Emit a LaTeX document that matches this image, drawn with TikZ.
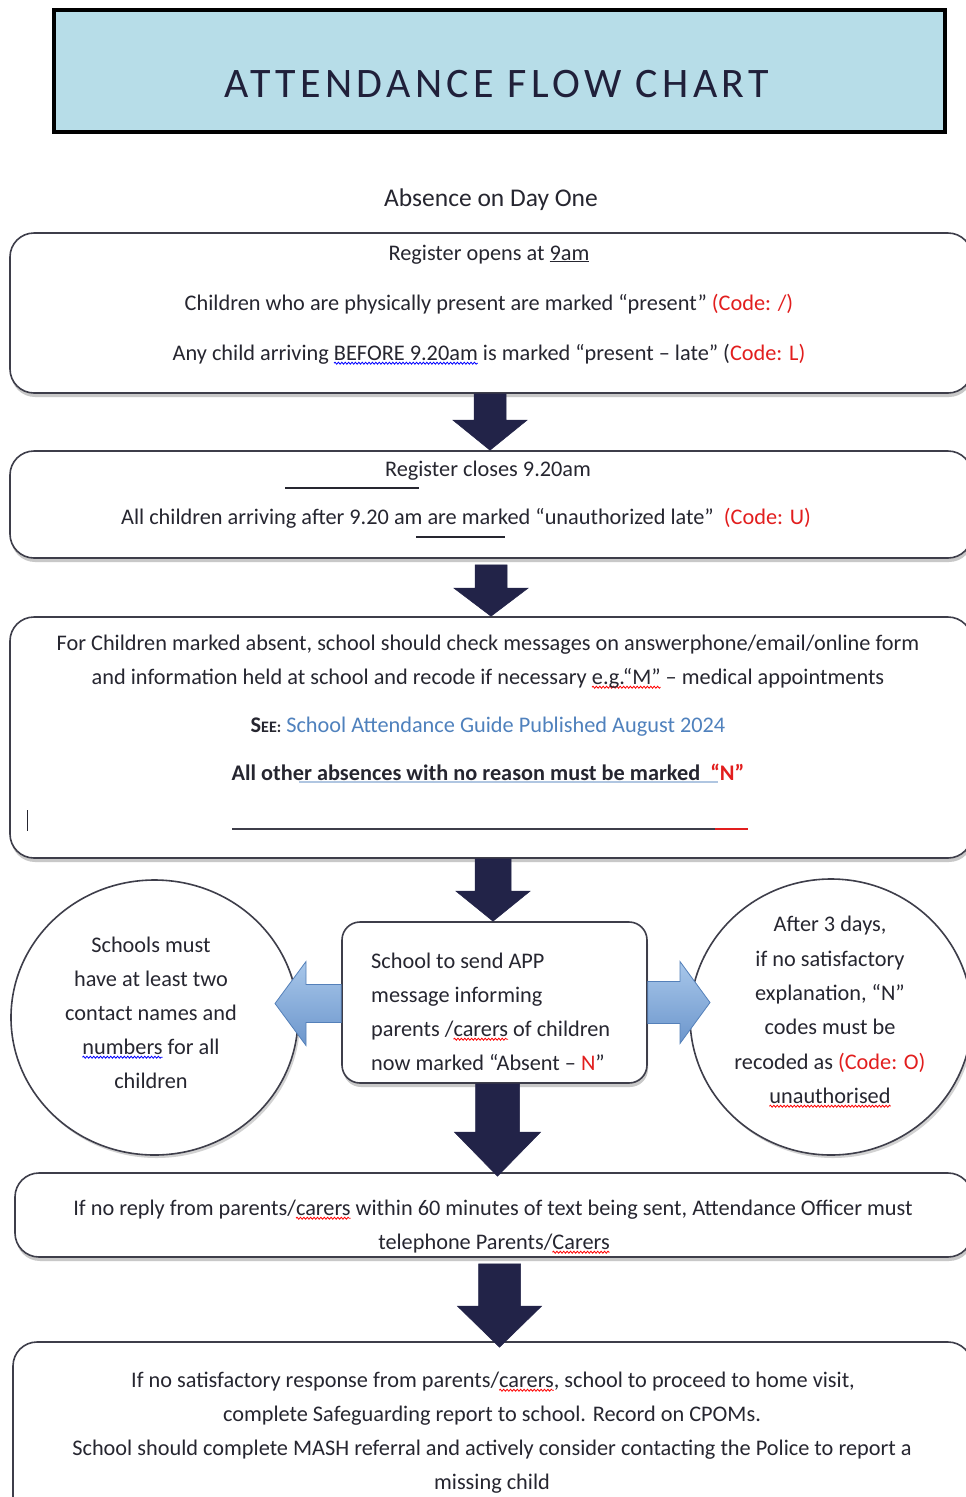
\documentclass[tikz,border=0pt]{standalone}
\usepackage{fontspec}
\setmainfont{Carlito}
\usetikzlibrary{calc,shapes.geometric,shadows,decorations.pathmorphing}
\definecolor{ink}{RGB}{38,38,48}
\definecolor{codered}{RGB}{226,30,30}
\definecolor{navy}{RGB}{34,35,72}
\definecolor{titlefill}{RGB}{183,221,232}
\definecolor{titleink}{RGB}{32,32,58}
\definecolor{linkblue}{RGB}{79,129,189}
\definecolor{edge}{RGB}{62,62,74}
\definecolor{lbluetop}{RGB}{168,199,234}
\definecolor{lbluebot}{RGB}{108,150,204}
\definecolor{lblueedge}{RGB}{84,128,185}
\newsavebox\wavybox
\newcommand\wavy[2]{\sbox\wavybox{#2}\tikz[overlay,baseline=0pt]\draw[#1,line width=0.8pt,decorate,decoration={snake,amplitude=1pt,segment length=3.4pt}] (0pt,-3.2pt) -- (\wd\wavybox,-3.2pt);\usebox\wavybox}
\newcommand\cred[1]{\textcolor{codered}{#1}}
\tikzset{
  box/.style={draw=edge, line width=1.6pt, rounded corners=24pt, fill=white, inner sep=0pt,
    drop shadow={shadow xshift=1pt, shadow yshift=-4pt, opacity=0.3, fill=black!70}},
  ell/.style={ellipse, draw=edge, line width=1.6pt, fill=white, inner sep=0pt,
    drop shadow={shadow xshift=2pt, shadow yshift=-3pt, opacity=0.25, fill=black!70}},
  txt/.style={inner sep=0pt, anchor=base},
  ltxt/.style={inner sep=0pt, anchor=base west},
  darrow/.style n args={3}{fill=navy, draw=navy, line width=0.5pt,
    to path={let \p1=(\tikztostart),\p2=(\tikztotarget) in
      (\x1-#1,\y1) -- (\x1-#1,\y2+#3) -- (\x1-#2,\y2+#3) -- (\x1,\y2) -- (\x1+#2,\y2+#3) -- (\x1+#1,\y2+#3) -- (\x1+#1,\y1) -- cycle}},
  harrow/.style n args={3}{top color=lbluetop, bottom color=lbluebot, draw=lblueedge, line width=0.8pt,
    to path={let \p1=(\tikztostart),\p2=(\tikztotarget) in
      (\x1,\y1-#1) -- (\x2+#3,\y1-#1) -- (\x2+#3,\y1-#2) -- (\x2,\y1) -- (\x2+#3,\y1+#2) -- (\x2+#3,\y1+#1) -- (\x1,\y1+#1) -- cycle}},
}
\begin{document}
\begin{tikzpicture}[x=1pt,y=-1pt, font=\fontsize{22.3}{24}\selectfont, text=ink]
\fill[white] (0,0) rectangle (966,1497);
\useasboundingbox (0,0) rectangle (966,1497);

% title
\node[draw=black, line width=3.5pt, fill=titlefill, minimum width=891pt, minimum height=122pt, inner sep=0pt] (title) at (499.5,71) {};
\node[inner sep=0pt, text=titleink, font=\fontsize{42}{42}\selectfont\addfontfeature{LetterSpace=10.5}] (ttl) at (497,84) {ATTENDANCE FLOW CHART};
\node[txt, font=\fontsize{25.5}{27}\selectfont] (day) at (491,206) {Absence on Day One};

% boxes
\node[box, minimum width=962pt, minimum height=160pt] (b1) at (491,313) {};
\node[box, minimum width=962pt, minimum height=107pt] (b2) at (491,504.5) {};
\node[box, minimum width=962pt, minimum height=241pt] (b3) at (491,737.5) {};
\node[box, rounded corners=18pt, minimum width=305pt, minimum height=161pt] (cb) at (494.5,1002.5) {};
\node[ell, minimum width=287pt, minimum height=275pt] (le) at (154.5,1017.5) {};
\node[ell, minimum width=282pt, minimum height=276pt] (re) at (831,1017) {};
\node[box, minimum width=957pt, minimum height=84pt] (b5) at (493.5,1215) {};
\node[box, minimum width=959pt, minimum height=180pt] (b6) at (492.5,1432) {};

% box 1 text
\node[txt] (t11) at (489,260) {Register opens at \underline{9am}};
\node[txt] (t12) at (489,310) {Children who are physically present are marked “present” \cred{(Code: /)}};
\node[txt] (t13) at (489,360) {Any child arriving \wavy{blue}{BEFORE 9.20am} is marked “present – late” (\cred{Code: L)}};

% box 2 text
\node[txt] (t21) at (488,476) {Register closes 9.20am};
\node[txt] (t22) at (466,524) {All children arriving after 9.20 am are marked “unauthorized late”\ \ \cred{(Code: U)}};
\draw[ink, line width=1.3pt] (285,488) -- (419,488);
\draw[ink, line width=1.3pt] (416,537) -- (505,537);

% box 3 text
\node[txt] (t31) at (488,650) {For Children marked absent, school should check messages on answerphone/email/online form};
\node[txt] (t32) at (488,684) {and information held at school and recode if necessary \wavy{red}{e.g.“M”} – medical appointments};
\node[txt] (t33) at (488,732) {{\bfseries S{\fontsize{16}{16}\selectfont EE:}} \textcolor{linkblue}{School Attendance Guide Published August 2024}};
\draw[linkblue!45, line width=1.3pt] (299,782) -- (718,782);
\node[txt] (t34) at (488,780) {\bfseries All other absences with no reason must be marked\ \ \cred{“N”}};
\draw[edge, line width=1.3pt] (232,829) -- (715,829);
\draw[codered, line width=1.3pt] (715,829) -- (748,829);
\draw[ink, line width=1pt] (27,810) -- (27,831);

% centre box text
\node[ltxt] (c1) at (371,968) {School to send APP};
\node[ltxt] (c2) at (371,1002) {message informing};
\node[ltxt] (c3) at (371,1036) {parents /\wavy{red}{carers} of children};
\node[ltxt] (c4) at (371,1070) {now marked “Absent – \cred{N}”};

% left ellipse text
\node[txt] (l1) at (151,952) {Schools must};
\node[txt] (l2) at (151,986) {have at least two};
\node[txt] (l3) at (151,1020) {contact names and};
\node[txt] (l4) at (151,1054) {\wavy{blue}{numbers} for all};
\node[txt] (l5) at (151,1088) {children};

% right ellipse text
\node[txt] (r1) at (830,931) {After 3 days,};
\node[txt] (r2) at (830,966) {if no satisfactory};
\node[txt] (r3) at (830,1000) {explanation, “N”};
\node[txt] (r4) at (830,1034) {codes must be};
\node[txt] (r5) at (830,1069) {recoded as \cred{(Code: O)}};
\node[txt] (r6) at (830,1103) {\wavy{red}{unauthorised}};

% box 5 text
\node[txt] (t51) at (493,1215) {If no reply from parents/\wavy{red}{carers} within 60 minutes of text being sent, Attendance Officer must};
\node[txt] (t52) at (494,1249) {telephone Parents/\wavy{red}{Carers}};

% box 6 text
\node[txt] (t61) at (493,1387) {If no satisfactory response from parents/\wavy{red}{carers}, school to proceed to home visit,};
\node[txt] (t62) at (492,1421) {complete Safeguarding report to school. Record on CPOMs.};
\node[txt] (t63) at (492,1455) {School should complete MASH referral and actively consider contacting the Police to report a};
\node[txt] (t64) at (492,1489) {missing child};

% arrows
\path[darrow={16pt}{37pt}{30pt}] ([xshift=-1pt]b1.south) to ([xshift=-1pt]b2.north);
\path[darrow={16pt}{37pt}{28pt}] ([yshift=-6pt]b2.south) to (b3.north);
\path[darrow={18pt}{37pt}{30pt}] ([xshift=2pt]b3.south) to ([xshift=2pt]cb.north);
\path[darrow={22pt}{43pt}{44pt}] ([xshift=3pt]cb.south) to ([xshift=3pt,yshift=-4pt]b5.north);
\path[darrow={21pt}{42pt}{41pt}] ([xshift=6pt,yshift=-6pt]b5.south) to ([xshift=6pt,yshift=-6pt]b6.north);

\coordinate (ltip) at (275,1005);
\coordinate (rtip) at (710,1000);
\path[harrow={19pt}{42pt}{31pt}] ([yshift=-1pt]cb.west) to (ltip);
\path[harrow={21pt}{41pt}{-30pt}] ([yshift=0pt]cb.east) to (rtip);
\end{tikzpicture}
\end{document}
